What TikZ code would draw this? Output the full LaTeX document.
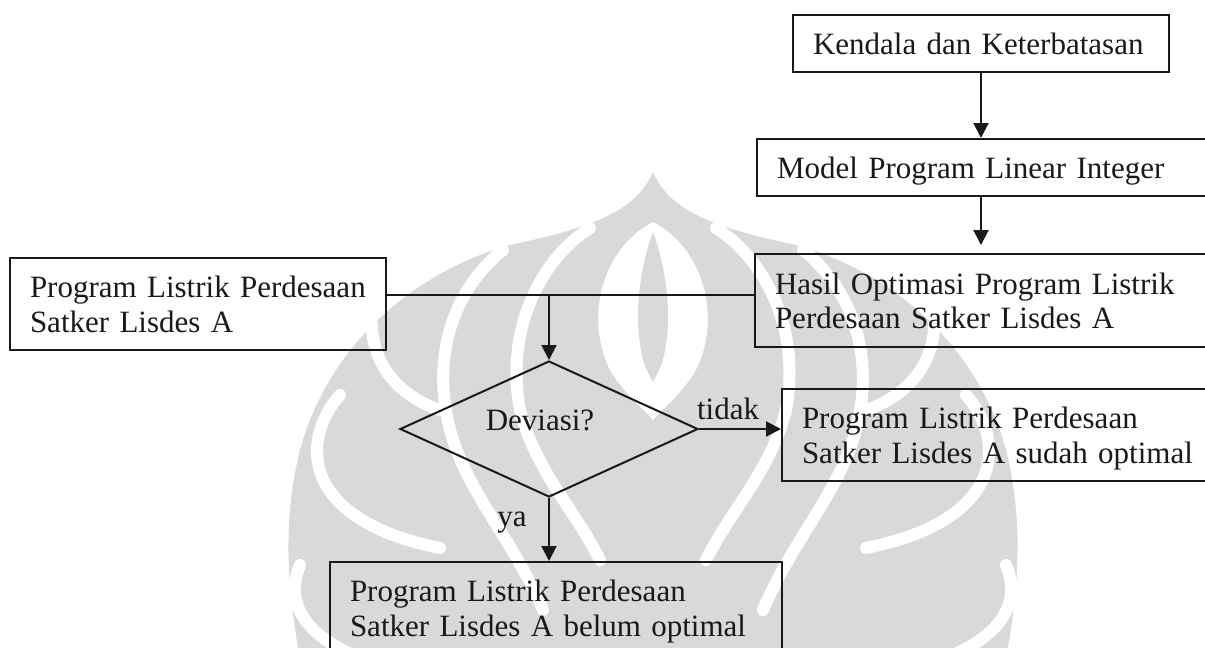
\documentclass[tikz,border=0pt]{standalone}
\usepackage{fontspec}
\setmainfont{Liberation Serif}
\usetikzlibrary{arrows.meta,shapes.geometric}
\definecolor{wm}{RGB}{217,217,217}
\definecolor{ink}{RGB}{25,25,25}
\begin{document}
\begin{tikzpicture}[x=1pt,y=-1pt,
  every node/.style={font=\fontsize{31}{34.5}\selectfont, text=ink},
  box/.style={draw=ink, line width=2pt, rectangle, anchor=north west,
    inner xsep=20pt, inner ysep=0pt, align=left},
  oneline/.style={text depth=0pt},
  twolines/.style={text depth=34.5pt},
  flow/.style={draw=ink, line width=2pt, -{Triangle[length=15pt,width=15pt]}},
  joint/.style={draw=ink, line width=2pt},
  band/.style={draw=white, line width=12pt, line cap=round}]
\useasboundingbox (0,0) rectangle (1205,648);

% faint emblem in the background
\fill[wm] (653,172) .. controls (636,212) and (590,228) .. (510,245)
  .. controls (420,270) and (330,340) .. (300,450)
  .. controls (280,530) and (290,600) .. (300,660) -- (1006,660)
  .. controls (1016,600) and (1026,530) .. (1006,450)
  .. controls (976,340) and (886,270) .. (796,245)
  .. controls (716,228) and (670,212) .. (653,172) -- cycle;
\foreach \s in {1,-1}{
  \begin{scope}[shift={(653,0)}, xscale=\s]
    \draw[band] (-281,325) .. controls (-281,360) and (-258,395) .. (-213,410);
    \draw[band] (-313,395) .. controls (-353,440) and (-353,520) .. (-213,548);
    \draw[band] (-353,565) .. controls (-368,600) and (-353,640) .. (-273,665);
    \draw[band] (-63,228) .. controls (-113,260) and (-148,330) .. (-133,410)
      .. controls (-118,470) and (-78,510) .. (-53,560);
    \draw[band] (-150,250) .. controls (-200,290) and (-225,360) .. (-200,440)
      .. controls (-180,500) and (-140,540) .. (-110,610);
    \fill[white] (0,222) .. controls (-53,250) and (-68,320) .. (-43,370)
      .. controls (-28,395) and (-8,410) .. (0,420) -- cycle;
    \fill[wm] (0,232) .. controls (-14,270) and (-20,320) .. (-10,360)
      .. controls (-6,372) and (-2,378) .. (0,382) -- cycle;
  \end{scope}
}

% process boxes
\node[box, oneline, minimum width=376pt, text width=336pt, minimum height=57pt] (b1) at (792,14)
  {Kendala dan Keterbatasan};
\node[box, oneline, minimum width=470pt, text width=430pt, minimum height=57pt] (b2) at (756,138)
  {Model Program Linear Integer};
\node[box, twolines, minimum width=470pt, text width=430pt, minimum height=93pt] (b3) at (754,253)
  {Hasil Optimasi Program Listrik\\Perdesaan Satker Lisdes A};
\node[box, twolines, minimum width=376pt, text width=336pt, minimum height=92pt] (b4) at (9,257)
  {Program Listrik Perdesaan\\Satker Lisdes A};
\node[box, twolines, minimum width=440pt, text width=400pt, minimum height=92pt] (b5) at (781,388)
  {Program Listrik Perdesaan\\Satker Lisdes A sudah optimal};
\node[box, twolines, minimum width=452pt, text width=412pt, minimum height=92pt] (b6) at (329,561)
  {Program Listrik Perdesaan\\Satker Lisdes A belum optimal};

% decision
\node[draw=ink, line width=2pt, diamond, minimum width=298pt, minimum height=136pt,
  inner sep=0pt] (dev) at (549,429) {};
\node (devtxt) at (540,420) {Deviasi?};
\node (no) at (728,409) {tidak};
\node (yes) at (512,523) {ya};

% connectors
\coordinate (jy) at (0,295);
\coordinate (j) at (dev.north |- jy);
\draw[joint] (b4.east |- j) -- (b3.west |- j);
\draw[flow] (j) -- (dev.north);
\draw[flow] (b1.south) -- (b1.south |- b2.north);
\draw[flow, shorten >=8pt] (b1.south |- b2.south) -- (b1.south |- b3.north);
\draw[flow] (dev.east) -- (dev.east -| b5.west);
\draw[flow] (dev.south) -- (dev.south |- b6.north);
\end{tikzpicture}
\end{document}
